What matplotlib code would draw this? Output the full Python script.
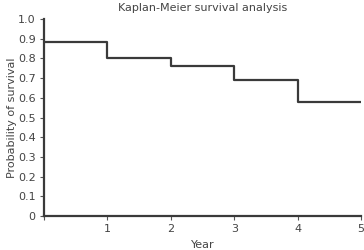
import matplotlib
matplotlib.use('Agg')
import matplotlib.pyplot as plt

# Kaplan-Meier step values
years = [0, 1, 2, 3, 4, 5]
survival = [0.885, 0.80, 0.76, 0.69, 0.58, 0.58]

y_ticks = [0, 0.1, 0.2, 0.3, 0.4, 0.5, 0.6, 0.7, 0.8, 0.9, 1.0]
y_labels = ['0', '0.1', '0.2', '0.3', '0.4', '0.5', '0.6', '0.7', '0.8', '0.9', '1.0']
x_ticks = [0, 1, 2, 3, 4, 5]
x_labels = ['', '1', '2', '3', '4', '5']

text_color = '#444444'

fig = plt.figure(figsize=(3.64, 2.5), dpi=100)
ax = fig.add_axes([0.121, 0.136, 0.871, 0.788])

ax.step(years, survival, where='post', color='#3a3a3a', linewidth=1.6)

ax.set_xlim(0, 5)
ax.set_ylim(0, 1.0)
ax.set_xticks(x_ticks)
ax.set_xticklabels(x_labels)
ax.set_yticks(y_ticks)
ax.set_yticklabels(y_labels)

for side in ['top', 'right']:
    ax.spines[side].set_visible(False)
for side in ['left', 'bottom']:
    ax.spines[side].set_color('#3a3a3a')
    ax.spines[side].set_linewidth(1.6)

ax.tick_params(direction='out', length=3, width=0.8, color='#555555',
               labelsize=8, labelcolor=text_color, pad=3)

ax.set_title('Kaplan-Meier survival analysis', fontsize=8, color=text_color, pad=6)
ax.set_xlabel('Year', fontsize=8, color=text_color, labelpad=4)
ax.set_ylabel('Probability of survival', fontsize=8, color=text_color, labelpad=1)

fig.savefig('out.png', dpi=100)
